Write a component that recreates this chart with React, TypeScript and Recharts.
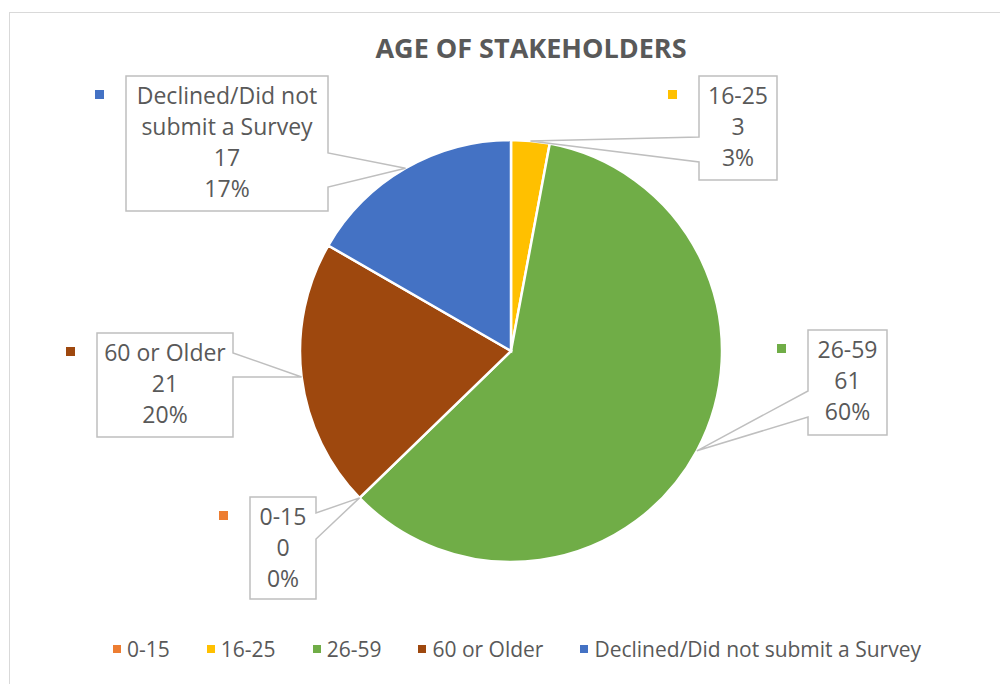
import { PieChart, Pie, Cell, Legend } from 'recharts';

// legend order (as in the source sheet)
const CATEGORIES = ['0-15', '16-25', '26-59', '60 or Older', 'Declined/Did not submit a Survey'];
const COLORS = ['#ED7D31', '#FFC000', '#70AD47', '#9E480E', '#4472C4'];

// pie drawing order, clockwise from 12 o'clock
const SLICE_NAMES = ['16-25', '26-59', '0-15', '60 or Older', 'Declined/Did not submit a Survey'];
const SLICE_VALUES = [3, 61, 0, 21, 17];
const SLICE_PERCENTS = ['3%', '60%', '0%', '20%', '17%'];
const SLICE_LABEL_LINES = [['16-25'], ['26-59'], ['0-15'], ['60 or Older'], ['Declined/Did not', 'submit a Survey']];

const TEXT = '#595959';
const FONT = '"Open Sans", "Noto Sans", sans-serif';

// callout boxes: left, top, width, height, side of the wedge, wedge base offsets from top
const CALLOUTS = [
  { x: 699, y: 76, w: 78, h: 104, side: 'left', b0: 61, b1: 86 },
  { x: 808, y: 330, w: 79, h: 105, side: 'left', b0: 61, b1: 87 },
  { x: 250, y: 497, w: 66, h: 102, side: 'right', b0: 16, b1: 42 },
  { x: 97, y: 333, w: 136, h: 104, side: 'right', b0: 20, b1: 44 },
  { x: 126, y: 76, w: 202, h: 135, side: 'right', b0: 77, b1: 111 },
];

const data = SLICE_NAMES.map((name, i) => ({
  name,
  value: SLICE_VALUES[i],
  color: COLORS[CATEGORIES.indexOf(name)],
}));

const RAD = Math.PI / 180;

function renderCallout(props: any) {
  const { cx, cy, midAngle, outerRadius, index } = props;
  const box = CALLOUTS[index];
  const tipX = cx + outerRadius * Math.cos(-midAngle * RAD);
  const tipY = cy + outerRadius * Math.sin(-midAngle * RAD);
  const { x, y, w, h } = box;
  let pts: number[][];
  if (box.side === 'right') {
    pts = [[x, y], [x + w, y], [x + w, y + box.b0], [tipX, tipY], [x + w, y + box.b1], [x + w, y + h], [x, y + h]];
  } else {
    pts = [[x, y], [x + w, y], [x + w, y + h], [x, y + h], [x, y + box.b1], [tipX, tipY], [x, y + box.b0]];
  }
  const lines = [...SLICE_LABEL_LINES[index], String(SLICE_VALUES[index]), SLICE_PERCENTS[index]];
  const color = data[index].color;
  const lineH = 31;
  const firstY = y + 19;
  return (
    <g key={`callout-${index}`}>
      <polygon
        points={pts.map((p) => p.join(',')).join(' ')}
        fill="#ffffff"
        stroke="#bfbfbf"
        strokeWidth={1.5}
      />
      <rect x={x - 31} y={firstY - 5} width={9} height={9} fill={color} />
      {lines.map((line, j) => (
        <text
          key={j}
          x={x + w / 2}
          y={firstY + j * lineH}
          textAnchor="middle"
          dominantBaseline="central"
          fontSize={23}
          fontFamily={FONT}
          fill={TEXT}
        >
          {line}
        </text>
      ))}
    </g>
  );
}

function renderLegend() {
  return (
    <div style={{ display: 'flex', justifyContent: 'center', gap: 37, fontFamily: FONT, fontSize: 21, color: TEXT }}>
      {CATEGORIES.map((c, i) => (
        <div key={c} style={{ display: 'flex', alignItems: 'center', gap: 6 }}>
          <span style={{ width: 8, height: 8, background: COLORS[i], display: 'inline-block' }} />
          <span>{c}</span>
        </div>
      ))}
    </div>
  );
}

export default function App() {
  return (
    <div style={{ position: 'fixed', left: 0, top: 0, width: 1000, height: 684, background: '#fff', overflow: 'hidden' }}>
      <div
        style={{
          position: 'absolute',
          left: 9,
          top: 12,
          width: 1100,
          height: 800,
          borderLeft: '1px solid #d9d9d9',
          borderTop: '1px solid #d9d9d9',
        }}
      />
      <div style={{ position: 'absolute', left: 0, top: 0 }}>
        <PieChart width={1000} height={684} margin={{ top: 0, right: 0, bottom: 0, left: 0 }}>
          <text
            x={531}
            y={47}
            textAnchor="middle"
            dominantBaseline="central"
            fontSize={27}
            fontWeight="bold"
            fontFamily={FONT}
            fill={TEXT}
          >
            AGE OF STAKEHOLDERS
          </text>
          <Pie
            data={data}
            dataKey="value"
            nameKey="name"
            cx={511}
            cy={351}
            outerRadius={211}
            startAngle={90}
            endAngle={-270}
            stroke="#ffffff"
            strokeWidth={2.5}
            label={renderCallout}
            labelLine={false}
            isAnimationActive={false}
          >
            {data.map((d) => (
              <Cell key={d.name} fill={d.color} />
            ))}
          </Pie>
          <Legend
            content={renderLegend}
            wrapperStyle={{ left: 0, top: 635, width: 1034 }}
          />
        </PieChart>
      </div>
    </div>
  );
}
